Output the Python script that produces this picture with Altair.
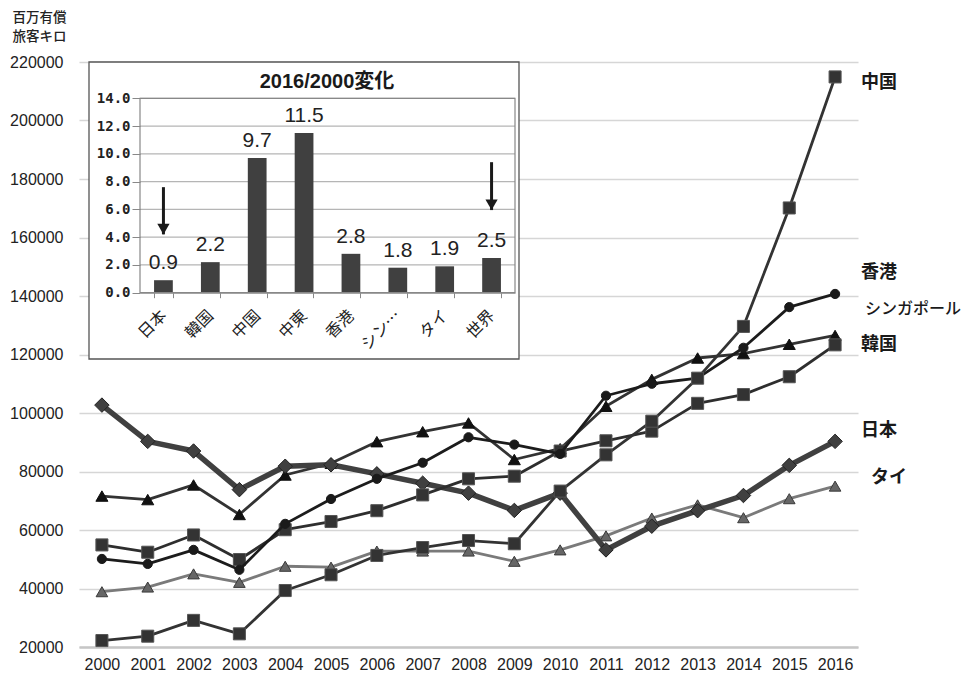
import altair as alt
import pandas as pd

# ---- main series: revenue passenger-km (millions) ----
years = ["2000", "2001", "2002", "2003", "2004", "2005", "2006", "2007", "2008",
         "2009", "2010", "2011", "2012", "2013", "2014", "2015", "2016"]

japan = [102700, 90300, 87000, 73800, 81800, 82300, 79200, 76000, 72600,
         66700, 72600, 53200, 61300, 66600, 71800, 82100, 90300]
china = [22200, 23700, 29100, 24500, 39300, 44700, 51300, 54000, 56400,
         55300, 73300, 85700, 97200, 111900, 129600, 170100, 214900]
hong_kong = [50100, 48400, 53200, 46400, 62100, 70600, 77500, 83000, 91700,
             89200, 86000, 105900, 110000, 111900, 122300, 136200, 140700]
singapore = [71600, 70400, 75400, 65300, 78800, 82800, 90200, 93600, 96600,
             84100, 87800, 102300, 111500, 118800, 120300, 123500, 126500]
korea = [54900, 52400, 58300, 49900, 60100, 62900, 66600, 72000, 77500,
         78400, 87000, 90500, 93800, 103300, 106300, 112400, 123300]
thailand = [38900, 40500, 45000, 42100, 47600, 47300, 52800, 52800, 52800,
            49300, 53200, 58000, 64100, 68600, 64200, 70700, 75000]

y_ticks = [20000, 40000, 60000, 80000, 100000, 120000, 140000, 160000, 180000, 200000, 220000]

# ---- inset: 2016/2000 ratio ----
inset_cats = ["日本", "韓国", "中国", "中東", "香港", "シンガポール", "タイ", "世界"]
inset_ratio = [0.9, 2.2, 9.7, 11.5, 2.8, 1.8, 1.9, 2.5]
inset_ticks = [0.0, 2.0, 4.0, 6.0, 8.0, 10.0, 12.0, 14.0]
arrow_cats = ["日本", "世界"]
arrow_top = [7.6, 9.4]
arrow_tip = [4.2, 5.95]

W, H = 779, 585
JP = "Noto Sans CJK JP"
LAT = "Liberation Sans"

# Every layer carries its own (identical, fully specified) scales, so the
# layers can be resolved independently and the inset keeps its own axes.
MX_SCALE = alt.Scale(type="point", domain=years, padding=0.5)
MY_SCALE = alt.Scale(domain=[20000, 220000], nice=False, zero=False)

X_AXIS = alt.Axis(orient="bottom", title=None, labelAngle=0, labelFont=LAT, labelFontSize=16,
                  labelColor="#222", labelPadding=9, ticks=False,
                  domainColor="#c6c6c6", domainWidth=2.5)
Y_AXIS = alt.Axis(orient="left", values=y_ticks, format="d", grid=True, gridColor="#d6d6d6",
                  gridWidth=1.5, domain=False, ticks=False, labelFont=LAT,
                  labelFontSize=16, labelColor="#222", labelPadding=16,
                  title=["百万有償", "旅客キロ"], titleAngle=0, titleAlign="left",
                  titleBaseline="top", titleX=-67, titleY=-52, titleFont=JP,
                  titleFontSize=13.5, titleFontWeight=500, titleColor="#222",
                  titleLineHeight=19)


def mx(with_axis=False):
    return alt.X("year:O", sort=years, scale=MX_SCALE, axis=X_AXIS if with_axis else None)


def my(with_axis=False):
    return alt.Y("value:Q", scale=MY_SCALE, axis=Y_AXIS if with_axis else None)


def series(vals, line_color, line_width, shape, size, fill, stroke, with_axis=False):
    d = pd.DataFrame({"year": years, "value": vals})
    line = alt.Chart(d).mark_line(color=line_color, strokeWidth=line_width,
                                  strokeJoin="round").encode(x=mx(with_axis), y=my(with_axis))
    pts = alt.Chart(d).mark_point(shape=shape, size=size, filled=True, fill=fill,
                                  stroke=stroke, strokeWidth=1, opacity=1).encode(x=mx(), y=my())
    return [line, pts]


def end_label(name, vals, dx, dy, size, weight):
    d = pd.DataFrame({"year": [years[-1]], "value": [vals[-1]], "label": [name]})
    return alt.Chart(d).mark_text(align="left", baseline="middle", dx=dx, dy=dy,
                                  font=JP, fontSize=size, fontWeight=weight,
                                  color="#1a1a1a").encode(x=mx(), y=my(), text="label:N")


layers = []
layers += series(thailand, "#7a7a7a", 2.8, "triangle-up", 135, "#666666", "#3a3a3a", with_axis=True)
layers += series(singapore, "#333333", 2.8, "triangle-up", 145, "#111111", "#111111")
layers += series(japan, "#404040", 5.5, "diamond", 210, "#404040", "#222222")
layers += series(korea, "#2e2e2e", 2.8, "square", 145, "#333333", "#555555")
layers += series(hong_kong, "#1c1c1c", 2.8, "circle", 85, "#1a1a1a", "#1a1a1a")
layers += series(china, "#333333", 2.8, "square", 145, "#333333", "#555555")

layers += [
    end_label("中国", china, 26, 6, 18, "bold"),
    end_label("香港", hong_kong, 26, -21, 18, "bold"),
    end_label("シンガポール", singapore, 30, -26, 16, 500),
    end_label("韓国", korea, 26, 0, 18, "bold"),
    end_label("日本", japan, 26, -10, 18, "bold"),
    end_label("タイ", thailand, 36, -8, 18, "bold"),
]

# ---- inset chart drawn inside the main plot area ----
one = pd.DataFrame({"k": [0]})
box = alt.Chart(one).mark_rect(fill="white", stroke="#555555", strokeWidth=1.3).encode(
    x=alt.value(10), x2=alt.value(440), y=alt.value(0), y2=alt.value(297))
inset_title = alt.Chart(one).mark_text(
    text="2016/2000変化", font=LAT + ", " + JP, fontSize=20, fontWeight="bold",
    color="#1a1a1a", align="center", baseline="middle").encode(
    x=alt.value(248), y=alt.value(20))
frame = alt.Chart(one).mark_rect(fill=None, stroke="#888888", strokeWidth=1.2).encode(
    x=alt.value(61), x2=alt.value(436), y=alt.value(36.3), y2=alt.value(230.7))

IY_SCALE = alt.Scale(domain=[0, 14], range=[230.7, 36.3], nice=False, zero=True)
IX_SCALE = alt.Scale(domain=inset_cats, range=[61, 436], paddingInner=0.6, paddingOuter=0.3)

IX_AXIS = alt.Axis(orient="bottom", offset=-(H - 230.7), title=None, labelAngle=315,
                   labelAlign="right", labelBaseline="middle",
                   labelFont=JP, labelFontSize=16, labelColor="#222", labelLimit=50,
                   labelPadding=15, tickBand="extent", tickColor="#888",
                   tickSize=5, domainColor="#888", zindex=1)
IY_AXIS = alt.Axis(orient="left", offset=-61, values=inset_ticks, format=".1f",
                   title=None, grid=False, domain=False, tickColor="#888",
                   tickSize=8, labelFont="DejaVu Sans Mono", labelFontWeight="bold",
                   labelFontSize=14, labelColor="#222", labelPadding=2, zindex=1)

grid = alt.Chart(pd.DataFrame({"g": inset_ticks[1:]})).mark_rule(
    color="#b5b5b5", strokeWidth=1.2).encode(
    y=alt.Y("g:Q", scale=IY_SCALE, axis=None), x=alt.value(61), x2=alt.value(436))

bar_df = pd.DataFrame({"cat": inset_cats, "ratio": inset_ratio})
bars = alt.Chart(bar_df).mark_bar(color="#404040").encode(
    x=alt.X("cat:N", sort=inset_cats, scale=IX_SCALE, axis=IX_AXIS),
    y=alt.Y("ratio:Q", scale=IY_SCALE, axis=IY_AXIS))
bar_text = alt.Chart(bar_df).mark_text(
    baseline="alphabetic", dy=-11, font="Liberation Sans Narrow, " + LAT, fontSize=21,
    color="#222").encode(
    x=alt.X("cat:N", sort=inset_cats, scale=IX_SCALE, axis=None),
    y=alt.Y("ratio:Q", scale=IY_SCALE, axis=None),
    text=alt.Text("ratio:Q", format=".1f"))

arrow_df = pd.DataFrame({"cat": arrow_cats, "top": arrow_top, "tip": arrow_tip})
shaft = alt.Chart(arrow_df).mark_rule(color="#1a1a1a", strokeWidth=3).encode(
    x=alt.X("cat:N", sort=inset_cats, scale=IX_SCALE, axis=None),
    y=alt.Y("top:Q", scale=IY_SCALE, axis=None), y2=alt.Y2("tip:Q"))
head = alt.Chart(arrow_df).mark_point(
    shape="triangle-down", size=150, filled=True, color="#1a1a1a", opacity=1,
    yOffset=-5.3).encode(
    x=alt.X("cat:N", sort=inset_cats, scale=IX_SCALE, axis=None),
    y=alt.Y("tip:Q", scale=IY_SCALE, axis=None))

layers += [box, inset_title, grid, bars, frame, bar_text, shaft, head]

chart = alt.layer(*layers).resolve_scale(
    x="independent", y="independent").resolve_axis(
    x="independent", y="independent").properties(
    width=W, height=H, autosize=alt.AutoSizeParams(type="none"),
    padding={"left": 79, "top": 62, "right": 111, "bottom": 27},
    background="white").configure_view(stroke=None)

chart.save("out.html", embed_options={"renderer": "svg", "actions": False})
